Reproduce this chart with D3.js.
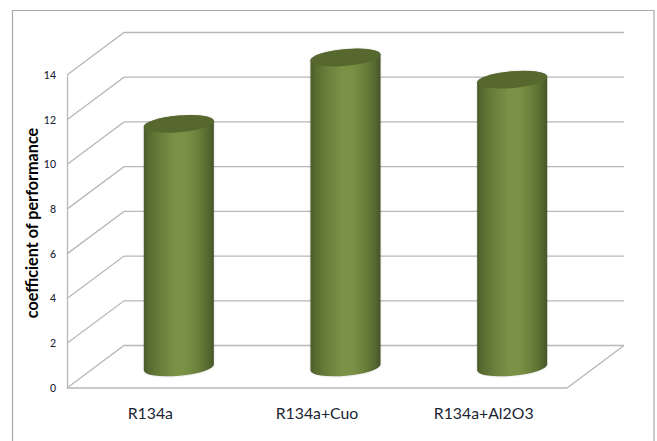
<!DOCTYPE html>
<html>
<head>
<meta charset="utf-8">
<script src="https://cdn.jsdelivr.net/npm/d3@7"></script>
<style>
  html, body { margin: 0; padding: 0; background: #fff; overflow: hidden; }
  text { font-family: Lato, "Open Sans", sans-serif; fill: #1a2433; }
</style>
</head>
<body>
<div id="chart"></div>
<script>
const categories = ["R134a", "R134a+Cuo", "R134a+Al2O3"]
const values = [11, 14, 13]
const yTicks = [0, 2, 4, 6, 8, 10, 12, 14]
const yTitle = "coefficient of performance"

const WIDTH = 657
const HEIGHT = 441
const FLOOR = { LEFT: 67, RIGHT: 567, FRONT: 388, TOP: 75 }
const DEPTH = { X: 57, Y: 42.5 }
const BAR = { RX: 35, RY: 8.2, TILT: 3 }

const svg = d3.select("#chart").append("svg")
  .attr("width", WIDTH)
  .attr("height", HEIGHT)
  .style("display", "block")

const y = d3.scaleLinear().domain([0, 14]).range([FLOOR.FRONT, FLOOR.TOP])
const x = d3.scaleBand().domain(categories).range([FLOOR.LEFT, FLOOR.RIGHT])
// cylinders stand mid depth, slightly shorter than the wall scale
const barY = d3.scaleLinear().domain([0, 14]).range([367.5, 57.5])
const barX = d => x(d) + x.bandwidth() / 2 + DEPTH.X / 2

// outer frame, open at the bottom
svg.append("path")
  .attr("d", `M12.5,${HEIGHT} V10.5 H654 V${HEIGHT}`)
  .attr("fill", "none")
  .attr("stroke", "#a8a8a8")
  .attr("stroke-width", 1.2)

const defs = svg.append("defs")
const grad = defs.append("linearGradient").attr("id", "cyl")
const stops = [
  [0, "#4c5c29"], [0.06, "#566930"], [0.2, "#667b39"], [0.45, "#7b9146"],
  [0.6, "#7a9045"], [0.78, "#68803a"], [0.92, "#55682f"], [1, "#46552a"]
]
stops.forEach(s => grad.append("stop").attr("offset", s[0]).attr("stop-color", s[1]))
defs.append("filter").attr("id", "soft")
  .attr("x", "-10%").attr("width", "120%")
  .append("feGaussianBlur").attr("stdDeviation", 1)

// side walls and floor
const grid = svg.append("g")
  .attr("fill", "none")
  .attr("stroke", "#b8b8b8")
  .attr("stroke-width", 1.3)

grid.selectAll("path.wall")
  .data(yTicks)
  .enter().append("path")
  .attr("class", "wall")
  .attr("d", d => `M${FLOOR.LEFT},${y(d)} L${FLOOR.LEFT + DEPTH.X},${y(d) - DEPTH.Y} H${FLOOR.RIGHT + DEPTH.X}`)

grid.append("path")
  .attr("d", `M${FLOOR.LEFT},${y(0)} H${FLOOR.RIGHT} L${FLOOR.RIGHT + DEPTH.X},${y(0) - DEPTH.Y}`)

const yAxis = svg.append("g")
  .attr("transform", `translate(${FLOOR.LEFT}, 0)`)
  .call(d3.axisLeft(y).tickValues(yTicks).tickSize(0).tickPadding(11))
yAxis.select(".domain").attr("stroke", "#b8b8b8").attr("stroke-width", 1.3)
yAxis.selectAll("text").style("font-size", "10.5px").style("font-weight", 500)

const xAxis = svg.append("g")
  .attr("transform", `translate(0, ${FLOOR.FRONT})`)
  .call(d3.axisBottom(x).tickSize(0).tickPadding(20))
xAxis.select(".domain").remove()
xAxis.selectAll("text").style("font-size", "15.8px")

svg.append("text")
  .attr("transform", `translate(38, 223) rotate(-90)`)
  .attr("text-anchor", "middle")
  .style("font-size", "16.2px")
  .style("font-weight", 700)
  .style("fill", "#000")
  .text(yTitle)

// one cylinder outline: down the left side, round the base, up the right side, back over the top
const body = (cx, top, bottom) => {
  const arc = sweep => `A${BAR.RX},${BAR.RY} -5 0 ${sweep}`
  return `M${cx - BAR.RX},${top + BAR.TILT} V${bottom + BAR.TILT}` +
    ` ${arc(0)} ${cx + BAR.RX},${bottom - BAR.TILT} V${top - BAR.TILT}` +
    ` ${arc(0)} ${cx - BAR.RX},${top + BAR.TILT} Z`
}

const bars = svg.selectAll("g.bar")
  .data(values)
  .enter().append("g")
  .attr("class", "bar")

bars.append("path")
  .attr("d", (d, i) => body(barX(categories[i]), barY(d), barY(0)))
  .attr("fill", "#000")
  .attr("opacity", 0.18)
  .attr("filter", "url(#soft)")

bars.append("path")
  .attr("d", (d, i) => body(barX(categories[i]), barY(d), barY(0)))
  .attr("fill", "url(#cyl)")

bars.append("ellipse")
  .attr("rx", BAR.RX + 0.3)
  .attr("ry", BAR.RY + 0.2)
  .attr("transform", (d, i) => `translate(${barX(categories[i])}, ${barY(d)}) rotate(-5)`)
  .attr("fill", "#57682f")
</script>
</body>
</html>
